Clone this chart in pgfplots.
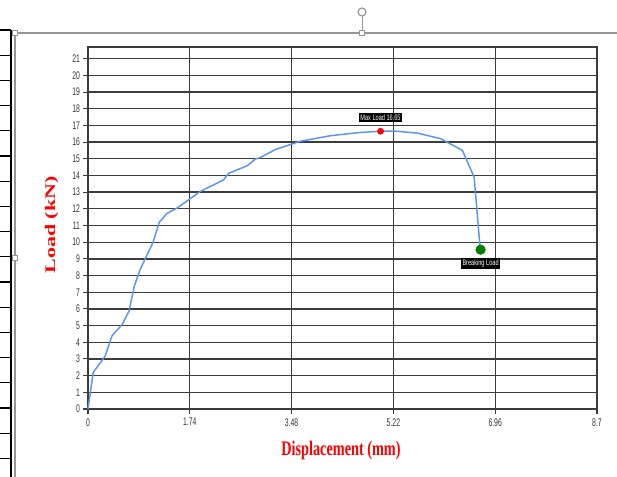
\documentclass[border=0pt]{standalone}
\usepackage{fontspec}
\setmainfont{Liberation Serif}
\newfontfamily\tickfont[FakeStretch=0.62]{Liberation Sans}
\newfontfamily\tagfont[FakeStretch=0.7]{Liberation Sans}
\usepackage{pgfplots}
\pgfplotsset{compat=1.18}
\definecolor{curve}{RGB}{88,150,240}
\definecolor{gridc}{RGB}{60,60,60}
\definecolor{frameg}{RGB}{150,150,150}
\definecolor{breakg}{RGB}{0,128,0}

\begin{document}
\begin{tikzpicture}[x=0.75pt,y=0.75pt]
\path[use as bounding box] (0,0) rectangle (617,477);

% page furniture round the picture
\draw[black, line width=0.8pt] (11,0) -- (11,447);
\foreach \yy in {447,421.8,396.6,371.4,346.2,321,295.8,270.6,245.4,220.2,195,169.8,144.6,119.4,94.2,69,43.8,18.6}
  \draw[black, line width=0.8pt] (0,\yy) -- (11,\yy);
\draw[frameg, line width=0.8pt] (15,0) -- (15,444) -- (617,444);
\draw[frameg] (362,444) -- (362,461);
\draw[frameg, line width=0.9pt] (362,465) circle (4);
\foreach \p in {(15,444),(362,444),(15,219)}
  \draw[frameg, fill=white] \p +(-2.5,-2.5) rectangle +(2.5,2.5);

\begin{axis}[
  at={(66pt,51pt)}, anchor=south west,
  scale only axis,
  width=381.75pt, height=271.5pt,
  xmin=0, xmax=8.7,
  ymin=0, ymax=21.7,
  xtick={0,1.74,3.48,5.22,6.96,8.7},
  xticklabels={0,1.74,3.48,5.22,6.96,8.7},
  ytick={0,1,...,21},
  tick pos=left,
  grid=major,
  grid style={gridc, line width=1pt},
  axis line style={gridc, line width=1pt},
  tick align=outside,
  major tick length=3.5pt,
  tick style={gridc, line width=0.8pt},
  tick label style={font=\tickfont\fontsize{8.3}{9}\selectfont, text=black!80},
  /pgf/number format/assume math mode=true,
  yticklabel style={xshift=1pt},
  clip=false,
]
\addplot[curve, line width=1.1pt] coordinates {
  (0,0) (0.09,2.2) (0.29,3.15) (0.41,4.38) (0.58,5.05) (0.70,5.85)
  (0.79,7.35) (0.89,8.35) (1.11,9.98) (1.22,11.2) (1.35,11.72)
  (1.52,12.04) (1.92,13.04) (2.32,13.74) (2.40,14.12) (2.72,14.58)
  (2.86,14.98) (2.95,15.08) (3.2,15.55) (3.63,16.05) (4.14,16.38)
  (4.66,16.58) (5.0,16.65) (5.23,16.66) (5.63,16.54) (6.03,16.2)
  (6.40,15.5) (6.60,13.9) (6.70,9.74) (6.71,9.55)
};
\addplot[only marks, mark=*, mark size=2.3pt, red, mark options={draw=red}] coordinates {(5.0,16.65)};
\addplot[only marks, mark=*, mark size=3.6pt, breakg, mark options={draw=breakg}] coordinates {(6.71,9.55)};
\node[fill=black, text=white, inner sep=1.3pt, font=\tagfont\fontsize{6}{6.5}\selectfont]
  at (axis cs:5.0,17.46) {Max Load 16.65};
\node[fill=black, text=white, inner sep=1.3pt, font=\tagfont\fontsize{6}{6.5}\selectfont]
  at (axis cs:6.71,8.74) {Breaking Load};
\end{axis}

\node[anchor=base, text=red, font=\bfseries\fontsize{15.5}{17}\selectfont] at (341,21) {\scalebox{0.69}[1]{Displacement (mm)}};
\node[anchor=base, rotate=90, text=red, font=\bfseries\fontsize{11}{13}\selectfont] at (55,252) {\scalebox{1.5}[1]{Load (kN)}};
\end{tikzpicture}
\end{document}
